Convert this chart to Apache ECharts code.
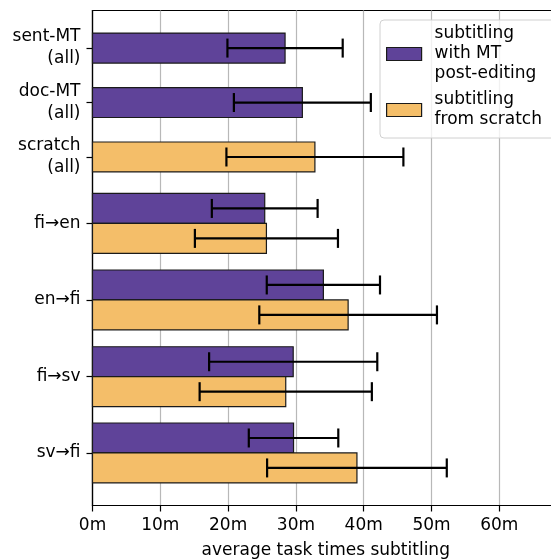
<!DOCTYPE html>
<html>
<head>
<meta charset="utf-8">
<script src="https://cdn.jsdelivr.net/npm/echarts@6/dist/echarts.min.js"></script>
<style>html,body{margin:0;padding:0;background:#fff}#c{width:551px;height:559px}</style>
</head>
<body>
<div id="c"></div>
<script>
// ---- data ----
const categories = ['sent-MT\n(all)', 'doc-MT\n(all)', 'scratch\n(all)', 'fi→en', 'en→fi', 'fi→sv', 'sv→fi'];
const mtMeans = [28.4, 30.95, null, 25.4, 34.05, 29.6, 29.65];
const mtErr = [8.5, 10.1, null, 7.8, 8.35, 12.4, 6.6];
const scratchMeans = [null, null, 32.8, 25.65, 37.7, 28.5, 39.0];
const scratchErr = [null, null, 13.05, 10.55, 13.1, 12.7, 13.25];
const xTickValues = [0, 10, 20, 30, 40, 50, 60];
const seriesNames = ['subtitling\nwith MT\npost-editing', 'subtitling\nfrom scratch'];

// ---- layout (not data) ----
const categoryPos = [0, 1, 2, 3.22, 4.625, 6.035, 7.435];
const BAR_H = 0.55;
const FONT = 'DejaVu Sans';
const FS = 17;

function build(means, errs, otherMeans, sign) {
  const out = [];
  means.forEach((m, i) => {
    if (m == null) return;
    const paired = otherMeans[i] != null;
    out.push([m, errs[i], categoryPos[i] + (paired ? sign * BAR_H / 2 : 0)]);
  });
  return out;
}

function renderItem(params, api) {
  const v = api.value(0), e = api.value(1), y = api.value(2);
  const p0 = api.coord([0, y]);
  const p1 = api.coord([v, y]);
  const h = api.size([0, BAR_H])[1];
  const lo = api.coord([v - e, y]);
  const hi = api.coord([v + e, y]);
  const cap = 9.5;
  const color = api.visual('color');
  return {
    type: 'group',
    children: [
      { type: 'rect', shape: { x: p0[0], y: p0[1] - h / 2, width: p1[0] - p0[0], height: h },
        style: { fill: color, stroke: '#1a1a1a', lineWidth: 1.2 } },
      { type: 'line', shape: { x1: lo[0], y1: lo[1], x2: hi[0], y2: hi[1] },
        style: { stroke: '#000', lineWidth: 2.2 }, z2: 10 },
      { type: 'line', shape: { x1: lo[0], y1: lo[1] - cap, x2: lo[0], y2: lo[1] + cap },
        style: { stroke: '#000', lineWidth: 2.2 }, z2: 10 },
      { type: 'line', shape: { x1: hi[0], y1: hi[1] - cap, x2: hi[0], y2: hi[1] + cap },
        style: { stroke: '#000', lineWidth: 2.2 }, z2: 10 }
    ]
  };
}

const chart = echarts.init(document.getElementById('c'), null, { renderer: 'canvas' });
chart.setOption({
  animation: false,
  textStyle: { fontFamily: FONT },
  grid: { left: 92.5, top: 10.5, height: 495, width: 466.5, outerBoundsMode: 'none', containLabel: false,
    show: true, borderColor: '#000', borderWidth: 1.2, backgroundColor: 'transparent' },
  legend: {
    orient: 'vertical', left: 380, top: 20, icon: 'rect',
    itemWidth: 35, itemHeight: 13, itemGap: 6,
    padding: [4, 22, 8, 6],
    backgroundColor: 'rgba(255,255,255,0.8)', borderColor: '#d0d0d0', borderWidth: 1, borderRadius: 4,
    itemStyle: { borderColor: '#1a1a1a', borderWidth: 1.2 },
    textStyle: { fontFamily: FONT, fontSize: FS, color: '#000', lineHeight: 20, padding: [0, 0, 0, 8] },
    data: seriesNames
  },
  xAxis: {
    type: 'value', min: 0, max: 68.8, interval: 10,
    axisLine: { show: true, onZero: false, lineStyle: { color: '#000', width: 1.2 } },
    axisTick: { show: true, length: 6, lineStyle: { color: '#000', width: 1.2 } },
    axisLabel: { fontFamily: FONT, fontSize: FS, color: '#000', margin: 12, showMaxLabel: false,
      formatter: v => xTickValues.indexOf(v) >= 0 ? v + 'm' : '' },
    splitLine: { show: true, lineStyle: { color: '#b8b8b8', width: 1.2 } },
    name: 'average task times subtitling', nameLocation: 'middle', nameGap: 37,
    nameTextStyle: { fontFamily: FONT, fontSize: FS, color: '#000' }
  },
  yAxis: {
    type: 'value', inverse: true, min: -0.69, max: 8.40,
    axisLine: { show: true, onZero: false, lineStyle: { color: '#000', width: 1.2 } },
    axisTick: { show: true, length: 6, customValues: categoryPos, lineStyle: { color: '#000', width: 1.2 } },
    axisLabel: { fontFamily: FONT, fontSize: FS, color: '#000', margin: 12, lineHeight: 22, align: 'right',
      padding: [3, 0, 0, 0],
      customValues: categoryPos,
      formatter: v => { const i = categoryPos.findIndex(p => Math.abs(p - v) < 1e-6); return i >= 0 ? categories[i] : ''; } },
    splitLine: { show: false }
  },
  series: [
    { name: seriesNames[0], type: 'custom', renderItem, itemStyle: { color: '#5f4399' },
      encode: { x: 0, y: 2 }, data: build(mtMeans, mtErr, scratchMeans, -1), z: 3 },
    { name: seriesNames[1], type: 'custom', renderItem, itemStyle: { color: '#f4be69' },
      encode: { x: 0, y: 2 }, data: build(scratchMeans, scratchErr, mtMeans, 1), z: 3 }
  ]
});
</script>
</body>
</html>
